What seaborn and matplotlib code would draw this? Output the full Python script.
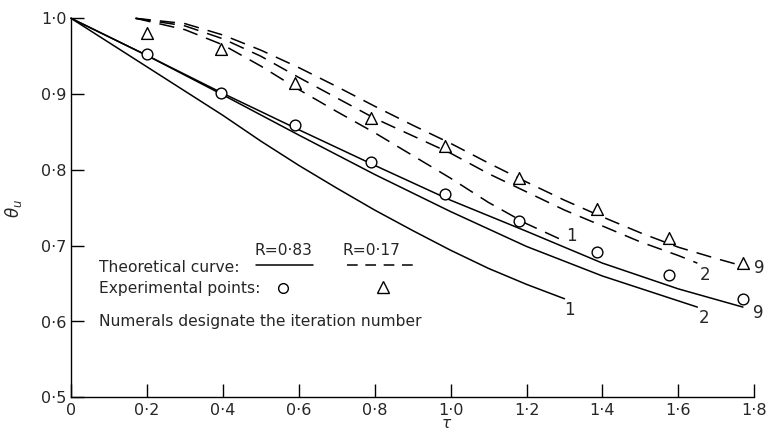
import numpy as np
import pandas as pd
import matplotlib
matplotlib.use("Agg")
import matplotlib.pyplot as plt
from matplotlib.lines import Line2D
import seaborn as sns

# ---------------- data ----------------
# Theoretical curves, R = 0.83 (solid)
tau_s1 = [0.0, 0.1, 0.2, 0.3, 0.4, 0.5, 0.6, 0.7, 0.8, 0.9, 1.0, 1.1, 1.2, 1.3]
theta_s1 = [1.0, 0.968, 0.936, 0.904, 0.872, 0.838, 0.806, 0.776, 0.747, 0.720, 0.694, 0.670, 0.649, 0.630]

tau_s2 = [0.0, 0.2, 0.4, 0.6, 0.8, 1.0, 1.2, 1.4, 1.65]
theta_s2 = [1.0, 0.951, 0.899, 0.846, 0.794, 0.745, 0.699, 0.660, 0.619]

tau_s9 = [0.0, 0.2, 0.4, 0.6, 0.8, 1.0, 1.2, 1.4, 1.6, 1.77]
theta_s9 = [1.0, 0.951, 0.901, 0.853, 0.806, 0.760, 0.719, 0.677, 0.643, 0.619]

# Theoretical curves, R = 0.17 (dashed)
tau_d1 = [0.17, 0.3, 0.4, 0.5, 0.6, 0.7, 0.8, 0.9, 1.0, 1.1, 1.2, 1.3]
theta_d1 = [1.0, 0.985, 0.965, 0.937, 0.906, 0.877, 0.849, 0.819, 0.789, 0.757, 0.729, 0.706]

tau_d2 = [0.17, 0.3, 0.4, 0.5, 0.6, 0.7, 0.8, 0.9, 1.0, 1.1, 1.2, 1.3, 1.4, 1.5, 1.6, 1.65]
theta_d2 = [1.0, 0.990, 0.973, 0.950, 0.922, 0.895, 0.868, 0.845, 0.822, 0.795, 0.771, 0.747, 0.726, 0.705, 0.687, 0.677]

tau_d9 = [0.17, 0.3, 0.4, 0.5, 0.6, 0.7, 0.8, 0.9, 1.0, 1.1, 1.2, 1.3, 1.4, 1.5, 1.6, 1.7, 1.75]
theta_d9 = [1.0, 0.993, 0.978, 0.958, 0.935, 0.910, 0.884, 0.859, 0.835, 0.809, 0.784, 0.760, 0.738, 0.717, 0.698, 0.683, 0.676]

# Experimental points
tau_pts = [0.2, 0.395, 0.59, 0.79, 0.985, 1.18, 1.385, 1.575, 1.77]
theta_circ = [0.953, 0.902, 0.859, 0.810, 0.768, 0.733, 0.692, 0.661, 0.630]
theta_tri = [0.980, 0.960, 0.914, 0.868, 0.832, 0.789, 0.748, 0.710, 0.677]

x_ticks = [0, 0.2, 0.4, 0.6, 0.8, 1.0, 1.2, 1.4, 1.6, 1.8]
x_tick_labels = ["0", "0·2", "0·4", "0·6", "0·8", "1·0", "1·2", "1·4", "1·6", "1·8"]
y_ticks = [0.5, 0.6, 0.7, 0.8, 0.9, 1.0]
y_tick_labels = ["0·5", "0·6", "0·7", "0·8", "0·9", "1·0"]

# ---------------- style ----------------
sns.set_style("ticks")
plt.rcParams["font.family"] = ["DejaVu Sans"]

W, H = 768, 433
fig = plt.figure(figsize=(W / 100, H / 100), dpi=100)


def fx(px):
    return px / W


def fy(py):
    return 1 - py / H


ax = fig.add_axes([fx(71), fy(397.3), fx(754.3) - fx(71), fy(18.3) - fy(397.3)])

DASH = (0, (10, 6))
LW = 1.1

solid = [(tau_s1, theta_s1), (tau_s2, theta_s2), (tau_s9, theta_s9)]
dashed = [(tau_d1, theta_d1), (tau_d2, theta_d2), (tau_d9, theta_d9)]

for t, th in solid:
    df = pd.DataFrame({"tau": t, "theta": th})
    sns.lineplot(data=df, x="tau", y="theta", ax=ax, color="black", lw=LW,
                 estimator=None, sort=False, clip_on=False)
for t, th in dashed:
    df = pd.DataFrame({"tau": t, "theta": th})
    sns.lineplot(data=df, x="tau", y="theta", ax=ax, color="black", lw=LW,
                 linestyle=DASH, estimator=None, sort=False, clip_on=False)

pts = pd.DataFrame({"tau": tau_pts, "circ": theta_circ, "tri": theta_tri})
sns.scatterplot(data=pts, x="tau", y="circ", ax=ax, marker="o", s=60,
                facecolor="white", edgecolor="black", linewidth=1.0, zorder=5, clip_on=False)
sns.scatterplot(data=pts, x="tau", y="tri", ax=ax, marker="^", s=72,
                facecolor="white", edgecolor="black", linewidth=1.0, zorder=5, clip_on=False)

ax.set_xlim(0, 1.8)
ax.set_ylim(0.5, 1.0)
ax.set_xticks(x_ticks)
ax.set_xticklabels(x_tick_labels)
ax.set_yticks(y_ticks)
ax.set_yticklabels(y_tick_labels)
ax.tick_params(direction="in", length=9.5, width=1.0, labelsize=11.5, color="black")
ax.tick_params(axis="x", pad=4)
ax.tick_params(axis="y", pad=3)
for s in ["top", "right"]:
    ax.spines[s].set_visible(False)
for s in ["left", "bottom"]:
    ax.spines[s].set_linewidth(1.0)
    ax.spines[s].set_color("black")
ax.set_xlabel("")
ax.set_ylabel("")

# axis titles
fig.text(fx(447), fy(424), r"$\tau$", ha="center", va="center", fontsize=11)
fig.text(fx(14), fy(208), r"$\theta_u$", ha="center", va="center", fontsize=12, rotation=90)

# iteration numerals
num_fs = 12
for (x, y, s) in [(569, 310, "1"), (704, 318, "2"), (758, 313, "9"),
                  (571, 236, "1"), (705, 275, "2"), (759, 268, "9")]:
    fig.text(fx(x), fy(y), s, ha="center", va="center", fontsize=num_fs)

# legend block
lfs = 11.2
fig.text(fx(99), fy(272), "Theoretical curve:", ha="left", va="baseline", fontsize=lfs)
fig.text(fx(255), fy(255), "R=0·83", ha="left", va="baseline", fontsize=lfs)
fig.text(fx(343), fy(255), "R=0·17", ha="left", va="baseline", fontsize=lfs)
fig.add_artist(Line2D([fx(256), fx(313)], [fy(265), fy(265)], color="black", lw=LW))
fig.add_artist(Line2D([fx(347), fx(417)], [fy(265), fy(265)], color="black", lw=LW,
                      linestyle=(0, (7, 5))))
fig.text(fx(99), fy(293), "Experimental points:", ha="left", va="baseline", fontsize=lfs)
fig.add_artist(Line2D([fx(283)], [fy(288)], marker="o", markersize=7, markerfacecolor="white",
                      markeredgecolor="black", markeredgewidth=1.0, linestyle="none"))
fig.add_artist(Line2D([fx(383)], [fy(287)], marker="^", markersize=8, markerfacecolor="white",
                      markeredgecolor="black", markeredgewidth=1.0, linestyle="none"))
fig.text(fx(99), fy(326), "Numerals designate the iteration number", ha="left", va="baseline",
         fontsize=lfs)

fig.savefig("out.png", dpi=100)
